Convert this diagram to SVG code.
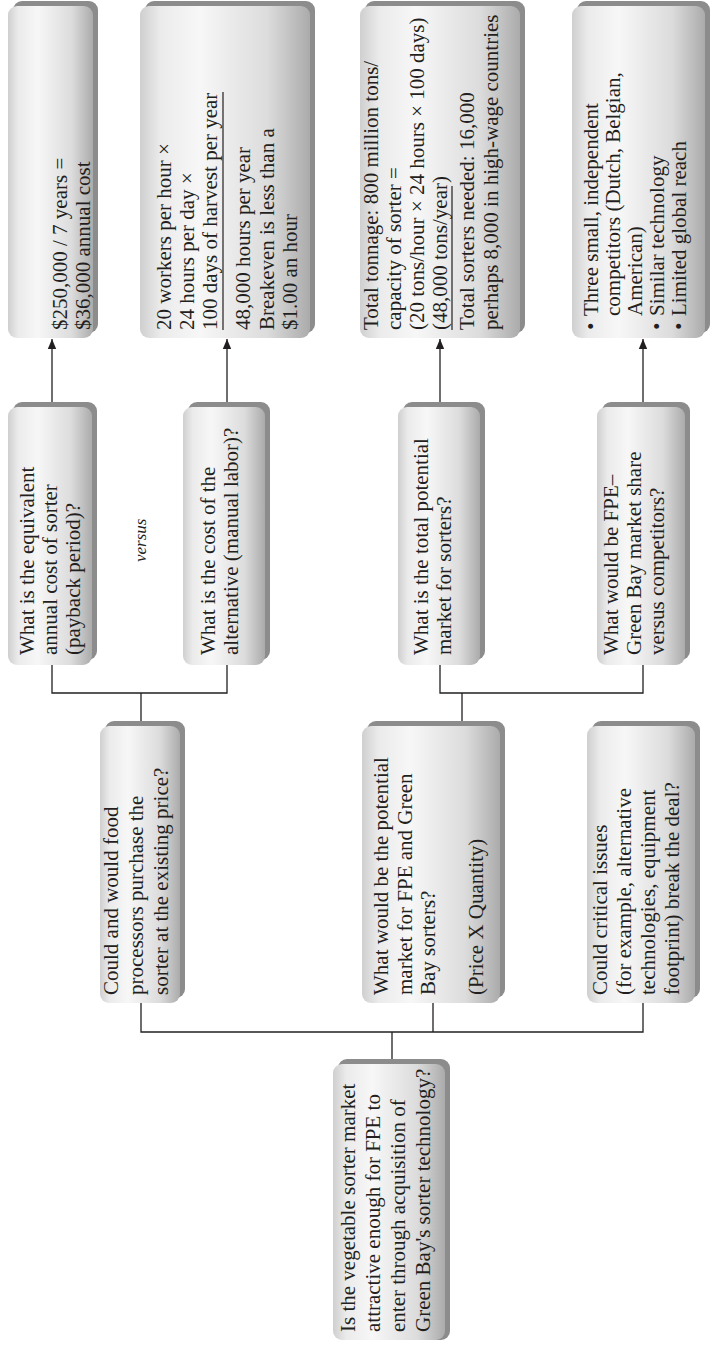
<svg xmlns="http://www.w3.org/2000/svg" width="714" height="1347" viewBox="0 0 714 1347">
  <defs>
    <linearGradient id="boxFill" x1="0" y1="0" x2="1" y2="0">
      <stop offset="0" stop-color="#cfcfcf"/>
      <stop offset="0.12" stop-color="#ebebeb"/>
      <stop offset="0.35" stop-color="#f7f7f7"/>
      <stop offset="0.75" stop-color="#dcdcdc"/>
      <stop offset="1" stop-color="#ababab"/>
    </linearGradient>
    <marker id="arrowHead" viewBox="0 0 10 10" refX="10" refY="5" markerWidth="10" markerHeight="10" markerUnits="userSpaceOnUse" orient="auto">
      <path d="M0,0.8 L10,5 L0,9.2 Z" fill="#231f20"/>
    </marker>
    <style>
      .shadow { fill: #8c8c8c; }
      .box { fill: url(#boxFill); }
      .t { font-family: "Liberation Serif", "Times New Roman", serif; font-size: 21px; fill: #231f20; }
      .it { font-family: "Liberation Serif", "Times New Roman", serif; font-size: 17px; font-style: italic; fill: #231f20; }
      .rule { stroke: #231f20; stroke-width: 1.2; fill: none; }
      .link { stroke: #231f20; stroke-width: 1.3; fill: none; }
    </style>
  </defs>

  <!-- connectors -->
  <g id="connectors">
    <path class="link" d="M52,402 V339" marker-end="url(#arrowHead)"/>
    <path class="link" d="M227,402 V339" marker-end="url(#arrowHead)"/>
    <path class="link" d="M440,402 V339" marker-end="url(#arrowHead)"/>
    <path class="link" d="M643,402 V339" marker-end="url(#arrowHead)"/>
    <path class="link" d="M52,665 V693 H227 V665 M141,693 V721"/>
    <path class="link" d="M440,665 V693 H643 V665 M462,693 V721"/>
    <path class="link" d="M141,1003 V1032 H643 V1003 M433,1003 V1032 M392,1032 V1059"/>
  </g>

  <!-- answers -->
  <g id="leaf-annual-cost">
    <rect class="shadow" x="13" y="1" width="85" height="332" rx="9"/>
    <rect class="box" x="8" y="6" width="85" height="332" rx="9"/>
    <text class="t" transform="translate(67,330) rotate(-90)">$250,000 / 7 years =</text>
    <text class="t" transform="translate(90,330) rotate(-90)">$36,000 annual cost</text>
  </g>

  <g id="leaf-labor-cost">
    <rect class="shadow" x="145" y="1" width="170" height="332" rx="9"/>
    <rect class="box" x="140" y="6" width="170" height="332" rx="9"/>
    <text class="t" transform="translate(171,330) rotate(-90)">20 workers per hour ×</text>
    <text class="t" transform="translate(194,330) rotate(-90)">24 hours per day ×</text>
    <text class="t" transform="translate(217,330) rotate(-90)">100 days of harvest per year</text>
    <path class="rule" d="M223,330 V92"/>
    <text class="t" transform="translate(250,330) rotate(-90)">48,000 hours per year</text>
    <text class="t" transform="translate(274,330) rotate(-90)">Breakeven is less than a</text>
    <text class="t" transform="translate(297,330) rotate(-90)">$1.00 an hour</text>
  </g>

  <g id="leaf-market-size">
    <rect class="shadow" x="365" y="1" width="160" height="332" rx="9"/>
    <rect class="box" x="360" y="6" width="160" height="332" rx="9"/>
    <text class="t" transform="translate(378,330) rotate(-90)">Total tonnage: 800 million tons/</text>
    <text class="t" transform="translate(401,330) rotate(-90)">capacity of sorter =</text>
    <text class="t" transform="translate(424,330) rotate(-90)">(20 tons/hour × 24 hours × 100 days)</text>
    <text class="t" transform="translate(447,330) rotate(-90)">(48,000 tons/year)</text>
    <path class="rule" d="M452,330 V186"/>
    <text class="t" transform="translate(474,330) rotate(-90)">Total sorters needed: 16,000</text>
    <text class="t" transform="translate(498,330) rotate(-90)">perhaps 8,000 in high-wage countries</text>
  </g>

  <g id="leaf-competitors">
    <rect class="shadow" x="577" y="1" width="133" height="332" rx="9"/>
    <rect class="box" x="572" y="6" width="133" height="332" rx="9"/>
    <text class="t" transform="translate(598,330) rotate(-90)">•</text>
    <text class="t" transform="translate(598,316) rotate(-90)">Three small, independent</text>
    <text class="t" transform="translate(620,316) rotate(-90)">competitors (Dutch, Belgian,</text>
    <text class="t" transform="translate(642,316) rotate(-90)">American)</text>
    <text class="t" transform="translate(664,330) rotate(-90)">•</text>
    <text class="t" transform="translate(664,316) rotate(-90)">Similar technology</text>
    <text class="t" transform="translate(686,330) rotate(-90)">•</text>
    <text class="t" transform="translate(686,316) rotate(-90)">Limited global reach</text>
  </g>

  <!-- sub-questions -->
  <g id="q-annual-cost">
    <rect class="shadow" x="13" y="402" width="84" height="258" rx="9"/>
    <rect class="box" x="8" y="407" width="84" height="258" rx="9"/>
    <text class="t" transform="translate(34,655) rotate(-90)">What is the equivalent</text>
    <text class="t" transform="translate(57,655) rotate(-90)">annual cost of sorter</text>
    <text class="t" transform="translate(80,655) rotate(-90)">(payback period)?</text>
  </g>

  <text class="it" transform="translate(146,562) rotate(-90)">versus</text>

  <g id="q-alternative-cost">
    <rect class="shadow" x="188" y="402" width="82" height="258" rx="9"/>
    <rect class="box" x="183" y="407" width="82" height="258" rx="9"/>
    <text class="t" transform="translate(215,655) rotate(-90)">What is the cost of the</text>
    <text class="t" transform="translate(238,655) rotate(-90)">alternative (manual labor)?</text>
  </g>

  <g id="q-total-market">
    <rect class="shadow" x="403" y="402" width="82" height="258" rx="9"/>
    <rect class="box" x="398" y="407" width="82" height="258" rx="9"/>
    <text class="t" transform="translate(428,655) rotate(-90)">What is the total potential</text>
    <text class="t" transform="translate(451,655) rotate(-90)">market for sorters?</text>
  </g>

  <g id="q-market-share">
    <rect class="shadow" x="602" y="402" width="88" height="258" rx="9"/>
    <rect class="box" x="597" y="407" width="88" height="258" rx="9"/>
    <text class="t" transform="translate(618,655) rotate(-90)">What would be FPE–</text>
    <text class="t" transform="translate(641,655) rotate(-90)">Green Bay market share</text>
    <text class="t" transform="translate(664,655) rotate(-90)">versus competitors?</text>
  </g>

  <!-- key questions -->
  <g id="q-purchase">
    <rect class="shadow" x="105" y="721" width="80" height="277" rx="9"/>
    <rect class="box" x="100" y="726" width="80" height="277" rx="9"/>
    <text class="t" transform="translate(118,995) rotate(-90)">Could and would food</text>
    <text class="t" transform="translate(143,995) rotate(-90)">processors purchase the</text>
    <text class="t" transform="translate(168,995) rotate(-90)">sorter at the existing price?</text>
  </g>

  <g id="q-potential-market">
    <rect class="shadow" x="367" y="721" width="138" height="277" rx="9"/>
    <rect class="box" x="362" y="726" width="138" height="277" rx="9"/>
    <text class="t" transform="translate(388,995) rotate(-90)">What would be the potential</text>
    <text class="t" transform="translate(412,995) rotate(-90)">market for FPE and Green</text>
    <text class="t" transform="translate(435,995) rotate(-90)">Bay sorters?</text>
    <text class="t" transform="translate(483,995) rotate(-90)">(Price X Quantity)</text>
  </g>

  <g id="q-critical-issues">
    <rect class="shadow" x="592" y="721" width="108" height="277" rx="9"/>
    <rect class="box" x="587" y="726" width="108" height="277" rx="9"/>
    <text class="t" transform="translate(607,995) rotate(-90)">Could critical issues</text>
    <text class="t" transform="translate(631,995) rotate(-90)">(for example, alternative</text>
    <text class="t" transform="translate(655,995) rotate(-90)">technologies, equipment</text>
    <text class="t" transform="translate(679,995) rotate(-90)">footprint) break the deal?</text>
  </g>

  <!-- main question -->
  <g id="q-main">
    <rect class="shadow" x="338" y="1059" width="112" height="281" rx="9"/>
    <rect class="box" x="333" y="1064" width="112" height="276" rx="9"/>
    <text class="t" transform="translate(355,1332) rotate(-90)">Is the vegetable sorter market</text>
    <text class="t" transform="translate(380,1332) rotate(-90)">attractive enough for FPE to</text>
    <text class="t" transform="translate(405,1332) rotate(-90)">enter through acquisition of</text>
    <text class="t" transform="translate(430,1332) rotate(-90)">Green Bay's sorter technology?</text>
  </g>
</svg>
